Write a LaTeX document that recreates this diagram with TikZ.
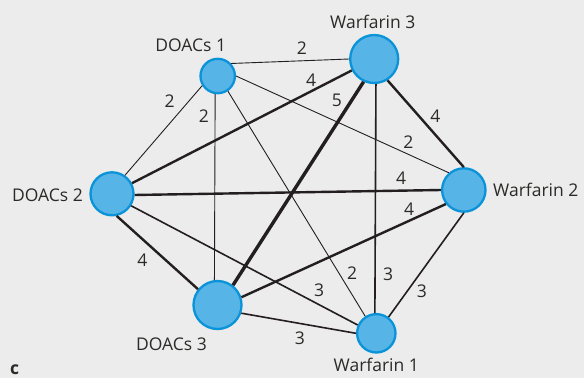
\documentclass[tikz,border=0pt]{standalone}
\usepackage{fontspec}
\setmainfont{Open Sans}
\usepackage{xcolor}
\definecolor{bgcolour}{HTML}{EBECEB}
\definecolor{nodefill}{HTML}{56B4E6}
\definecolor{nodeborder}{HTML}{0A93D9}
\definecolor{edgecolour}{HTML}{231F20}
\definecolor{textcolour}{HTML}{2B2A29}
\tikzset{
drugvertex/.style={circle, draw=nodeborder, fill=nodefill, line width=2.3pt, inner sep=0pt},
weighttwo/.style={draw=edgecolour, line width=0.9pt},
weightthree/.style={draw=edgecolour, line width=1.6pt},
weightfour/.style={draw=edgecolour, line width=2.4pt},
weightfive/.style={draw=edgecolour, line width=3.4pt},
weightlabel/.style={inner sep=0pt, text=textcolour},
}

\begin{document}
\begin{tikzpicture}[x=1pt, y=-1pt, font=\fontsize{17.5}{21}\selectfont, every label/.style={text=textcolour}]
    \fill[bgcolour] (0,0) rectangle (584,378);
    \useasboundingbox (0,0) rectangle (584,378);
    \node[drugvertex, minimum size=34.4pt] at (217.7,76) (d1) [label = {[xshift=-27pt, label distance=2pt]above:DOACs 1}] {};
    \node[drugvertex, minimum size=43pt] at (112,193.8) (d2) [label = {[yshift=-1pt, label distance=3pt]left:DOACs 2}] {};
    \node[drugvertex, minimum size=48pt] at (217.5,305) (d3) [label = {[xshift=-46pt, label distance=3.8pt]below:DOACs 3}] {};
    \node[drugvertex, minimum size=38.4pt] at (376.3,333.3) (w1) [label = {[label distance=1.2pt]below:Warfarin 1}] {};
    \node[drugvertex, minimum size=43.4pt] at (463.8,190) (w2) [label = {[label distance=3pt]right:Warfarin 2}] {};
    \node[drugvertex, minimum size=48pt] at (374.2,59) (w3) [label = {[xshift=-1.4pt, label distance=1.5pt]above:Warfarin 3}] {};
    \draw[weighttwo] (d1.43) to node[weightlabel, pos=.6, above=5.5pt]{2} (w3.west);
    \draw[weighttwo] (d1.212) to node[weightlabel, pos=.17, left=14pt]{2} (d2.55);
    \draw[weighttwo] (d1.262) to node[weightlabel, pos=.12, left=5.7pt]{2} (d3.97);
    \draw[weighttwo] (d1.east) to node[weightlabel, pos=.81, above=5.2pt]{2} (w2.131);
    \draw[weighttwo] (d1.304) to node[weightlabel, pos=.81, right=7.5pt]{2} (w1.123);
    \draw[weightfour] (w3.207) to node[weightlabel, pos=.185, above=3.8pt]{4} (d2.28);
    \draw[weightfive] (w3.245) to node[weightlabel, pos=.09, left=8.3pt]{5} (d3.52);
    \draw[weightfour] (w3.302) to node[weightlabel, pos=.41, right=10.4pt]{4} (w2.north);
    \draw[weightthree] (w3.274) to node[weightlabel, pos=.83, right=7.2pt]{3} (w1.94);
    \draw[weightfour] (d2.357) to node[weightlabel, pos=.87, above=5.2pt]{4} (w2.west);
    \draw[weightfour] (d2.282) to node[weightlabel, pos=.61, left=17.7pt]{4} (d3.141);
    \draw[weightthree] (d2.328) to node[weightlabel, pos=.83, above=7.6pt]{3} (w1.156);
    \draw[weightfour] (d3.18) to node[weightlabel, pos=.82, above=4.4pt]{4} (w2.218);
    \draw[weightthree] (d3.341) to node[weightlabel, pos=.51, below=7.3pt]{3} (w1.west);
    \draw[weightthree] (w2.south) to node[weightlabel, pos=.75, right=8.8pt]{3} (w1.53);
    \node[anchor=base west, inner sep=0pt, text=textcolour, font=\fontsize{17.5}{21}\selectfont\bfseries] at (10,374.5) (panel) {c};
\end{tikzpicture}
\end{document}
